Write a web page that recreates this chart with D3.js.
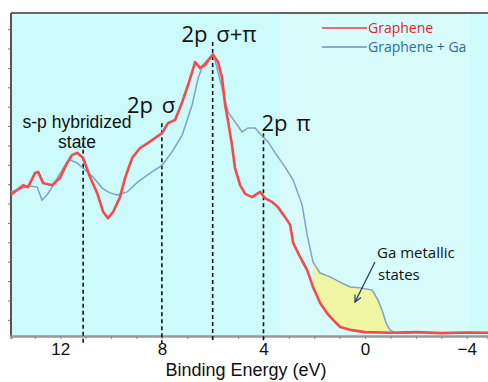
<!DOCTYPE html>
<html>
<head>
<meta charset="utf-8">
<script src="https://cdn.jsdelivr.net/npm/d3@7"></script>
<style>
  body { margin: 0; background: #fff; }
  svg { display: block; }
</style>
</head>
<body>
<div id="chart"></div>
<script>
// binding energy (eV) and intensity (a.u.)
const grapheneE = [13.94, 13.7, 13.46, 13.27, 12.99, 12.87, 12.68, 12.32, 12.01, 11.73, 11.54, 11.34, 11.1, 10.83,
  10.55, 10.31, 10.12, 9.92, 9.65, 9.45, 9.17, 8.86, 8.54, 8.27, 7.99, 7.76, 7.48, 7.2, 6.97, 6.81, 6.69, 6.5,
  6.3, 6.1, 5.98, 5.79, 5.63, 5.51, 5.39, 5.24, 5.12, 4.92, 4.72, 4.45, 4.13, 3.94, 3.66, 3.43, 3.15, 2.95,
  2.83, 2.56, 2.28, 2.05, 1.77, 1.5, 1.26, 0.98, 0.59, 0, -1, -2, -3, -4, -4.84];
const grapheneI = [43.7, 45.2, 46.7, 46.1, 50.5, 50.8, 47.4, 46.7, 48.9, 53.6, 56.0, 56.7, 55.1, 49.2,
  44.3, 38.4, 36.5, 38.4, 43.0, 48.9, 55.1, 58.2, 59.8, 61.3, 62.8, 65.9, 66.9, 72.4, 77.7, 81.7, 84.8, 83.0,
  83.9, 86.1, 87.0, 84.8, 79.9, 71.5, 66.3, 59.1, 52.0, 46.7, 44.0, 43.0, 44.6, 42.7, 41.5, 39.9, 36.8, 34.4,
  28.8, 24.5, 20.4, 15.2, 10.2, 7.1, 5.0, 2.8, 1.9, 1.2, 1.0, 1.2, 0.9, 1.1, 1.0];

const gaE = [13.94, 13.5, 13.19, 12.91, 12.72, 12.52, 12.32, 12.09, 11.81, 11.61, 11.34, 11.02, 10.71, 10.35,
  10.04, 9.76, 9.37, 8.94, 8.39, 7.99, 7.6, 7.2, 6.81, 6.57, 6.38, 6.1, 5.98, 5.79, 5.59, 5.39, 5.12, 4.84,
  4.61, 4.33, 4.02, 3.82, 3.54, 3.15, 2.83, 2.48, 2.28, 2.05, 1.77, 1.38, 0.98, 0.59, 0.2, -0.28, -0.51, -0.67,
  -0.83, -0.98, -1.18, -1.77];
const gaI = [44.6, 45.8, 46.4, 46.1, 42.1, 43.7, 46.1, 49.2, 52.9, 54.5, 53.6, 51.4, 49.2, 45.8,
  44.3, 43.7, 44.6, 47.7, 50.8, 52.9, 57.0, 62.2, 71.5, 79.9, 83.9, 86.4, 87.6, 81.7, 75.5, 69.3, 66.3, 63.2,
  64.4, 64.4, 61.6, 60.1, 56.7, 52.3, 48.3, 40.6, 31.3, 22.9, 19.5, 18.3, 16.7, 15.2, 14.9, 14.2, 11.1, 8.0,
  4.0, 1.9, 0.9, 0.9];

const xTickLabels = [12, 8, 4, 0, -4];
const xMinorTicks = [13, 12, 11, 10, 9, 8, 7, 6, 5, 4, 3, 2, 1, 0, -1, -2, -3, -4];
const yTicks = [5, 11, 17, 23, 29, 35, 41, 47, 53, 59, 65, 71, 77, 83, 89, 95];

// dashed peak markers: energy, top of the line (a.u.)
const peakE = [11.1, 8.0, 6.0, 4.0];
const peakTop = [59.8, 65.9, 91.0, 62.8];
const metallicRange = [2.1, -1.2];

const width = 488, height = 382;
const margin = { top: 13, right: 0, bottom: 46, left: 11 };

const svg = d3.select("#chart").append("svg")
  .attr("width", width)
  .attr("height", height);

const x = d3.scaleLinear()
  .domain([13.94, -4.84])
  .range([margin.left, width - margin.right]);

const y = d3.scaleLinear()
  .domain([0, 100])
  .range([height - margin.bottom, margin.top]);

// plot background
svg.append("rect")
  .attr("x", margin.left).attr("y", margin.top)
  .attr("width", width - margin.left - margin.right)
  .attr("height", y(0) - margin.top)
  .attr("fill", "#cdfbfb");

svg.append("rect")
  .attr("x", 280).attr("y", margin.top)
  .attr("width", 190)
  .attr("height", y(0) - margin.top)
  .attr("fill", "#d8fcfc");

const graphene = grapheneE.map((e, i) => ({ e, v: grapheneI[i] }));
const withGa = gaE.map((e, i) => ({ e, v: gaI[i] }));

const line = d3.line()
  .x((d) => x(d.e))
  .y((d) => y(d.v));

// yellow region between the two spectra
const upperEdge = withGa.filter((d) => d.e <= metallicRange[0] && d.e >= metallicRange[1]);
const lowerEdge = graphene.filter((d) => d.e <= metallicRange[0] && d.e >= metallicRange[1]).reverse();
svg.append("path")
  .attr("d", line(upperEdge.concat(lowerEdge)) + "Z")
  .attr("fill", "#eef6a4");

// y axis (no labels)
svg.append("g")
  .attr("transform", `translate(${margin.left},0)`)
  .call(d3.axisLeft(y).tickValues(yTicks).tickSize(3).tickFormat(""))
  .call((g) => g.select(".domain").remove())
  .call((g) => g.selectAll("line").attr("stroke", "#777"));

svg.append("line")
  .attr("x1", margin.left).attr("x2", margin.left)
  .attr("y1", margin.top).attr("y2", y(0) + 1)
  .attr("stroke", "#555").attr("stroke-width", 2);

svg.append("line")
  .attr("x1", margin.left).attr("x2", width)
  .attr("y1", margin.top).attr("y2", margin.top)
  .attr("stroke", "#666").attr("stroke-width", 2);

// x axis
svg.append("g")
  .attr("transform", `translate(0,${y(0)})`)
  .call(d3.axisBottom(x).tickValues(xMinorTicks).tickSize(3).tickFormat(""))
  .call((g) => g.select(".domain").attr("stroke", "#999").attr("stroke-width", 2.5))
  .call((g) => g.selectAll("line").attr("stroke", "#888"));

svg.append("g")
  .attr("transform", `translate(0,${y(0)})`)
  .call(d3.axisBottom(x).tickValues(xTickLabels).tickSize(0).tickPadding(7).tickFormat(d3.format("d")))
  .call((g) => g.select(".domain").remove())
  .call((g) => g.selectAll("text")
    .attr("font-family", "Liberation Sans, Arial, sans-serif")
    .attr("font-size", 17)
    .attr("fill", "#111"));

svg.append("text")
  .attr("x", 246).attr("y", 376)
  .attr("text-anchor", "middle")
  .attr("font-family", "Liberation Sans, Arial, sans-serif")
  .attr("font-size", 18)
  .attr("fill", "#111")
  .text("Binding Energy (eV)");

// dashed peak lines
peakE.forEach((e, i) => {
  svg.append("line")
    .attr("x1", x(e)).attr("x2", x(e))
    .attr("y1", y(peakTop[i])).attr("y2", y(-2.2))
    .attr("stroke", "#111")
    .attr("stroke-width", 1.6)
    .attr("stroke-dasharray", "4,3");
});

// spectra
svg.append("path")
  .datum(withGa)
  .attr("d", line)
  .attr("fill", "none")
  .attr("stroke", "#839fc9")
  .attr("stroke-width", 1.5);

svg.append("path")
  .datum(graphene)
  .attr("d", line)
  .attr("fill", "none")
  .attr("stroke", "#f34a4c")
  .attr("stroke-width", 2.6)
  .attr("stroke-linejoin", "round");

// annotations
const sans = "'Open Sans', Lato, sans-serif";
const arial = "Liberation Sans, Arial, sans-serif";

function label(txt, tx, ty, size, family, anchor = "start", color = "#111") {
  return svg.append("text")
    .attr("x", tx).attr("y", ty)
    .attr("text-anchor", anchor)
    .attr("font-family", family)
    .attr("font-size", size)
    .attr("fill", color)
    .text(txt);
}

label("2p σ+π", 219, 42, 22, sans, "middle").attr("word-spacing", 3);
label("2p σ", 151, 113, 22, sans, "middle").attr("word-spacing", 3);
label("2p π", 286, 131, 22, sans, "middle").attr("word-spacing", 3);
label("s-p hybridized", 77, 128, 17.5, arial, "middle");
label("state", 77, 148, 17.5, arial, "middle");
label("Ga metallic", 377, 258, 15, sans);
label("states", 378, 280, 15, sans);

// arrow to the metallic states
svg.append("defs").append("marker")
  .attr("id", "arrow")
  .attr("viewBox", "0 0 10 10")
  .attr("refX", 9).attr("refY", 5)
  .attr("markerWidth", 7).attr("markerHeight", 7)
  .attr("orient", "auto")
  .append("path")
  .attr("d", "M1,1L9,5L1,9")
  .attr("fill", "none")
  .attr("stroke", "#1f3d5c")
  .attr("stroke-width", 1.4);

svg.append("line")
  .attr("x1", 375).attr("y1", 262)
  .attr("x2", 355).attr("y2", 302)
  .attr("stroke", "#1f3d5c")
  .attr("stroke-width", 1.2)
  .attr("marker-end", "url(#arrow)");

// legend
const legend = [
  { name: "Graphene", color: "#f23d3f", text: "#e0262a" },
  { name: "Graphene + Ga", color: "#6f8fbf", text: "#2d6aa3" },
];
legend.forEach((d, i) => {
  const ly = 28 + i * 19;
  svg.append("line")
    .attr("x1", 322).attr("x2", 367)
    .attr("y1", ly).attr("y2", ly)
    .attr("stroke", d.color)
    .attr("stroke-width", 1.3);
  label(d.name, 368, ly + 5, 14, sans, "start", d.text);
});
</script>
</body>
</html>
